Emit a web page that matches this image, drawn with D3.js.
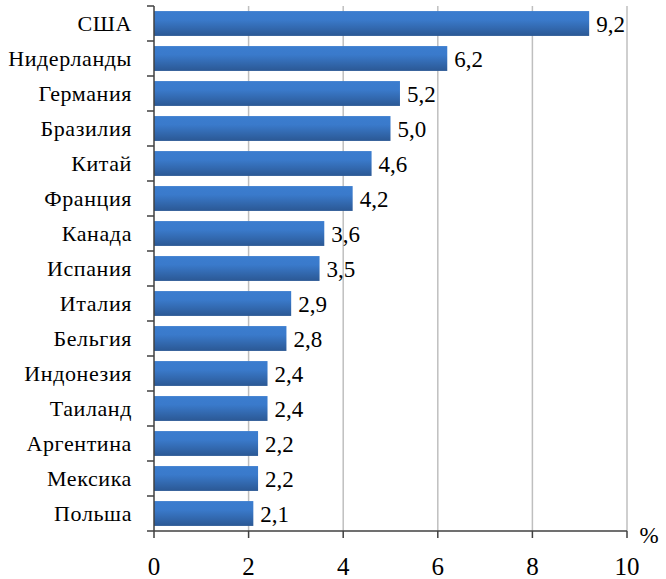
<!DOCTYPE html>
<html><head><meta charset="utf-8">
<script src="https://cdn.jsdelivr.net/npm/d3@7"></script>
</head><body style="margin:0;background:#fff">
<script>
const categories = ["США","Нидерланды","Германия","Бразилия","Китай","Франция","Канада","Испания","Италия","Бельгия","Индонезия","Таиланд","Аргентина","Мексика","Польша"];
const values = [9.2,6.2,5.2,5.0,4.6,4.2,3.6,3.5,2.9,2.8,2.4,2.4,2.2,2.2,2.1];
const xTicks = [0,2,4,6,8,10];

const FF="Liberation Serif, Times New Roman, serif";
const W=666,H=579;
const svg=d3.select("body").append("svg").attr("width",W).attr("height",H).style("display","block")
  .attr("font-family",FF);
const x=d3.scaleLinear().domain([0,10]).range([154,627]);
const y=d3.scaleBand().domain(categories).range([6,531]).paddingInner(0.29).paddingOuter(0.145);
const y0=d3.scaleBand().domain(categories).range([6,531]);

const defs=svg.append("defs");
const g=defs.append("linearGradient").attr("id","bg").attr("x1",0).attr("y1",0).attr("x2",0).attr("y2",1);
g.append("stop").attr("offset","0").attr("stop-color","#3b7dcf");
g.append("stop").attr("offset","0.35").attr("stop-color","#3a7acb");
g.append("stop").attr("offset","1").attr("stop-color","#2b5894");

svg.selectAll("line.grid").data(xTicks.slice(1)).join("line").attr("class","grid")
  .attr("x1",d=>x(d)).attr("x2",d=>x(d)).attr("y1",6).attr("y2",531)
  .attr("stroke","#bfbfbf").attr("stroke-width",1.5);

svg.selectAll("rect.bar").data(categories).join("rect").attr("class","bar")
  .attr("x",x(0)).attr("y",d=>y(d)).attr("height",y.bandwidth())
  .attr("width",(d,i)=>x(values[i])-x(0)).attr("fill","url(#bg)");

svg.selectAll("text.val").data(categories).join("text").attr("class","val")
  .attr("x",(d,i)=>x(values[i])+7).attr("y",d=>y(d)+y.bandwidth()/2+8)
  .attr("font-family",FF).attr("font-size",23).attr("fill","#000")
  .text((d,i)=>values[i].toFixed(1).replace(".",","));

svg.append("line").attr("x1",154).attr("x2",154).attr("y1",6).attr("y2",531).attr("stroke","#404040").attr("stroke-width",1.5);
const yb=d3.range(categories.length+1).map(i=>6+i*y0.step());
svg.selectAll("line.yt").data(yb).join("line").attr("class","yt")
  .attr("x1",147).attr("x2",154).attr("y1",d=>d).attr("y2",d=>d).attr("stroke","#404040").attr("stroke-width",1.5);
svg.selectAll("text.cat").data(categories).join("text").attr("class","cat")
  .attr("x",132).attr("y",d=>y0(d)+y0.bandwidth()/2+7.5)
  .attr("text-anchor","end").attr("font-family",FF).attr("font-size",22).attr("letter-spacing",0.6).attr("fill","#000")
  .text(d=>d);

svg.append("line").attr("x1",154).attr("x2",627).attr("y1",531).attr("y2",531).attr("stroke","#404040").attr("stroke-width",1.5);
svg.selectAll("line.xt").data(xTicks).join("line").attr("class","xt")
  .attr("x1",d=>x(d)).attr("x2",d=>x(d)).attr("y1",531).attr("y2",538).attr("stroke","#404040").attr("stroke-width",1.5);
svg.selectAll("text.xl").data(xTicks).join("text").attr("class","xl")
  .attr("x",d=>x(d)).attr("y",575).attr("text-anchor","middle")
  .attr("font-family",FF).attr("font-size",25).attr("fill","#000").text(d=>d);
svg.append("text").attr("x",649).attr("y",543).attr("text-anchor","middle")
  .attr("font-family",FF).attr("font-size",23).attr("fill","#000").text("%");
</script>
</body></html>
